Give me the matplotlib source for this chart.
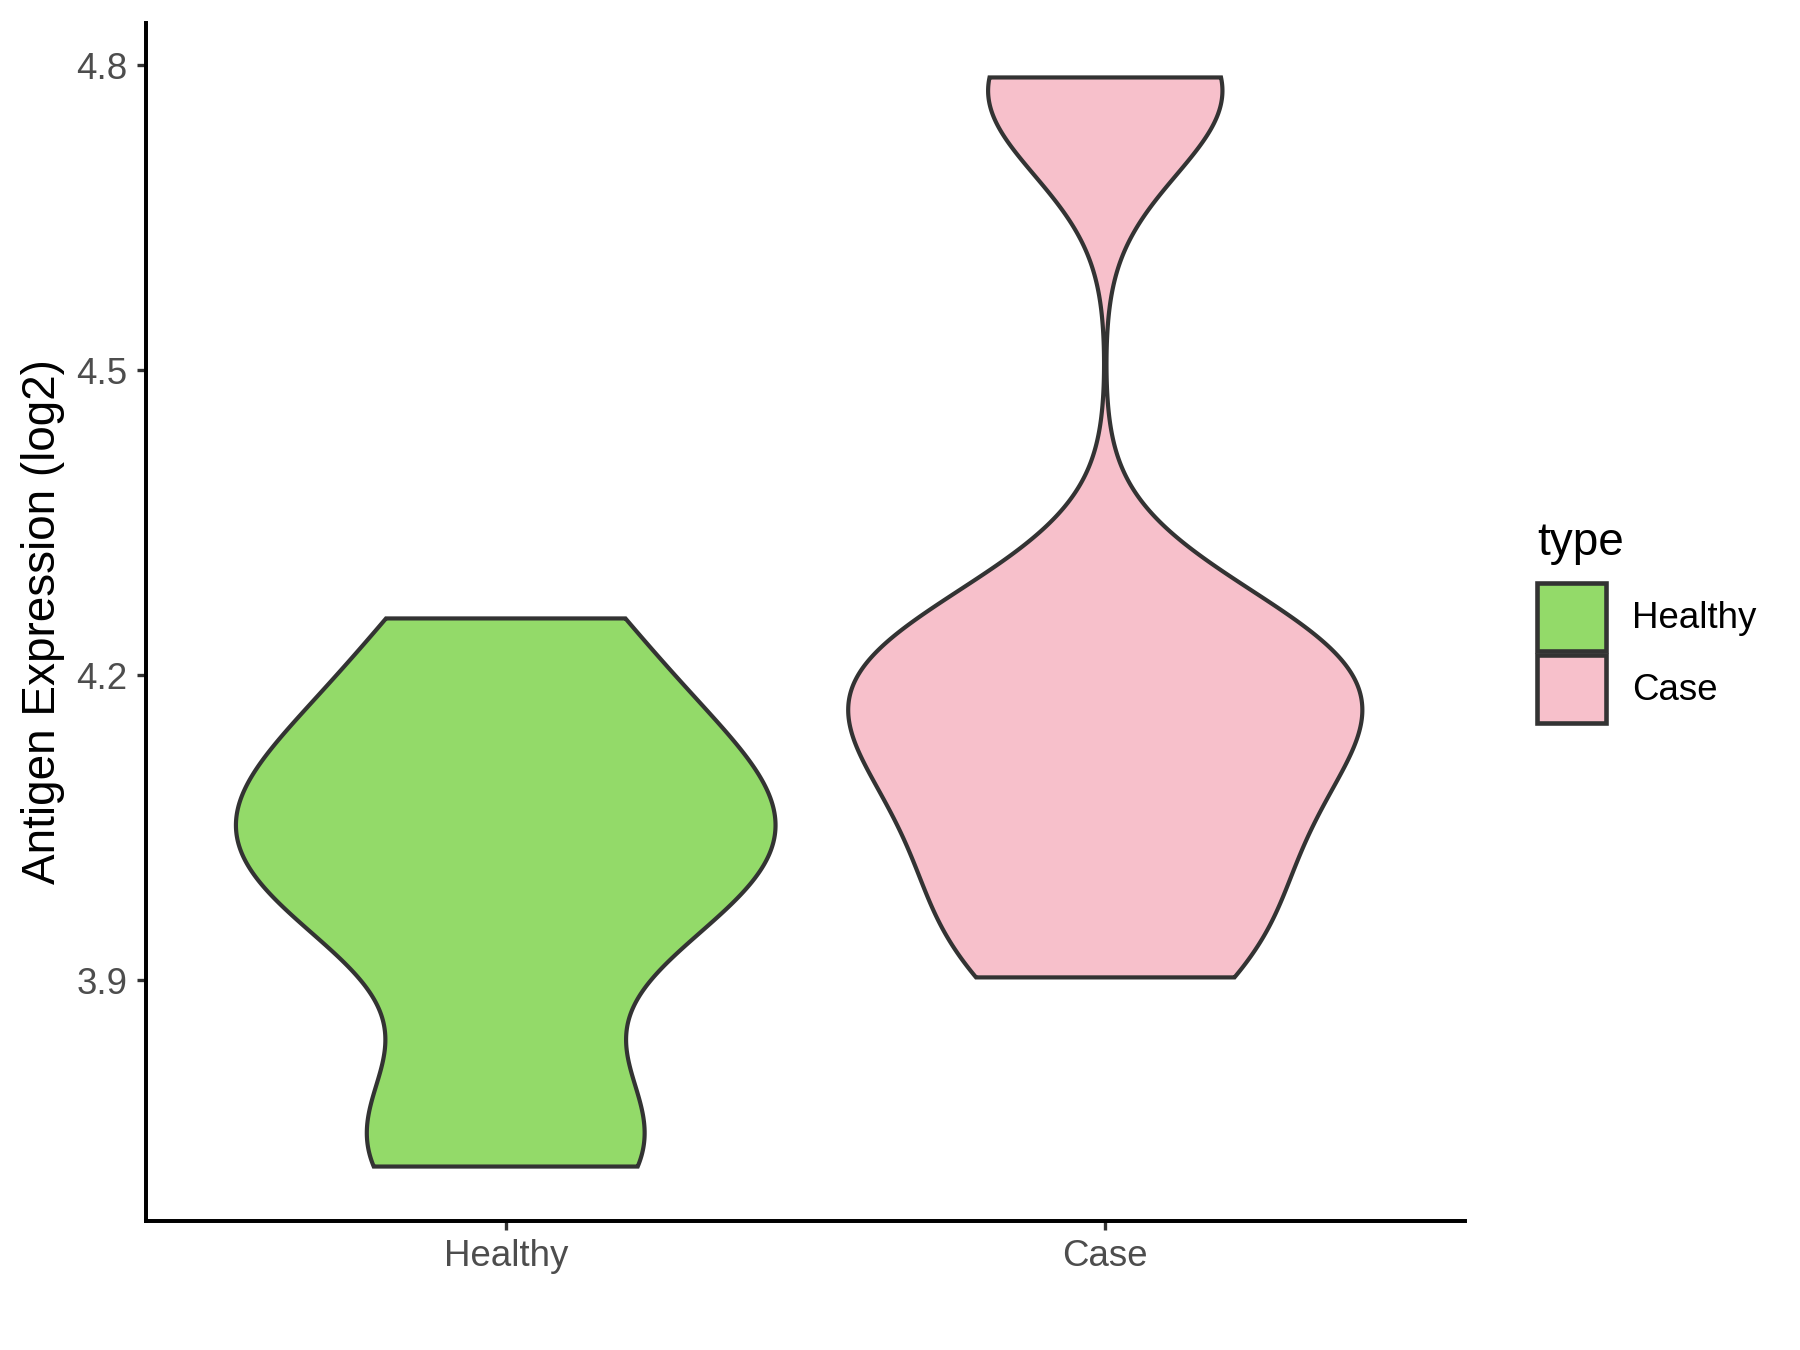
import numpy as np
import matplotlib.pyplot as plt
from matplotlib.patches import Rectangle

plt.rcParams['font.family'] = ['Liberation Sans', 'DejaVu Sans']

# values (log2 antigen expression per sample)
groups = ['Healthy', 'Case']
healthy_vals = [3.717, 3.762, 3.955, 4.00, 4.05, 4.09, 4.15, 4.256]
case_vals = [3.903, 3.955, 4.035, 4.09, 4.15, 4.185, 4.218, 4.25, 4.762, 4.788]
fill_colors = ['#93DA69', '#F7C0CB']
y_ticks = [3.9, 4.2, 4.5, 4.8]
y_ticklabels = ['3.9', '4.2', '4.5', '4.8']

OUTLINE = '#333333'


def bw_nrd0(x):
    # same rule as R's bw.nrd0, which ggplot uses for violins
    x = np.asarray(x, dtype=float)
    hi = np.std(x, ddof=1)
    q75, q25 = np.percentile(x, [75, 25])
    lo = min(hi, (q75 - q25) / 1.34)
    return 0.9 * lo * len(x) ** -0.2


def violin_density(x):
    x = np.asarray(x, dtype=float)
    h = bw_nrd0(x)
    grid = np.linspace(x.min(), x.max(), 512)
    z = (grid[:, None] - x[None, :]) / h
    dens = np.exp(-0.5 * z ** 2).sum(axis=1) / (len(x) * h * np.sqrt(2 * np.pi))
    return grid, dens


fig = plt.figure(figsize=(6, 4.5), dpi=300)
ax = fig.add_axes([146 / 1800, 129 / 1350, 1319 / 1800, 1198 / 1350])

dens_list = [violin_density(v) for v in (healthy_vals, case_vals)]
max_d = max(d.max() for _, d in dens_list)  # scale = "area"

for i, ((grid, d), col) in enumerate(zip(dens_list, fill_colors)):
    xpos = i + 1
    half = d / max_d * 0.45
    xs = np.concatenate([xpos - half, (xpos + half)[::-1]])
    ys = np.concatenate([grid, grid[::-1]])
    ax.fill(xs, ys, facecolor=col, edgecolor=OUTLINE, linewidth=1.0,
            joinstyle='miter', zorder=2)

all_vals = healthy_vals + case_vals
lo, hi = min(all_vals), max(all_vals)
pad = 0.05 * (hi - lo)
ax.set_ylim(lo - pad, hi + pad)
ax.set_xlim(0.4, 2.6)

ax.set_xticks([1, 2])
ax.set_xticklabels(groups)
ax.set_yticks(y_ticks)
ax.set_yticklabels(y_ticklabels)

for s in ['top', 'right']:
    ax.spines[s].set_visible(False)
for s in ['left', 'bottom']:
    ax.spines[s].set_linewidth(0.95)
    ax.spines[s].set_color('black')

ax.tick_params(length=2.2, width=0.8, color='#333333', labelcolor='#4D4D4D',
               labelsize=8.8, pad=2.2)
ax.set_ylabel('Antigen Expression (log2)', fontsize=11, labelpad=2.8)

# legend, drawn by hand in ggplot's style
fig.text(1537 / 1800, 1 - 555 / 1350, 'type', fontsize=11, va='baseline')
key_tops = [583, 655]
for top, col, lab in zip(key_tops, fill_colors, groups):
    fig.add_artist(Rectangle((1537 / 1800, 1 - (top + 68) / 1350), 69 / 1800, 68 / 1350,
                             transform=fig.transFigure, facecolor=col,
                             edgecolor=OUTLINE, linewidth=1.1))
    fig.text(1632 / 1800, 1 - (top + 35) / 1350, lab, fontsize=8.8, va='center')

fig.savefig('out.png', dpi=300)
